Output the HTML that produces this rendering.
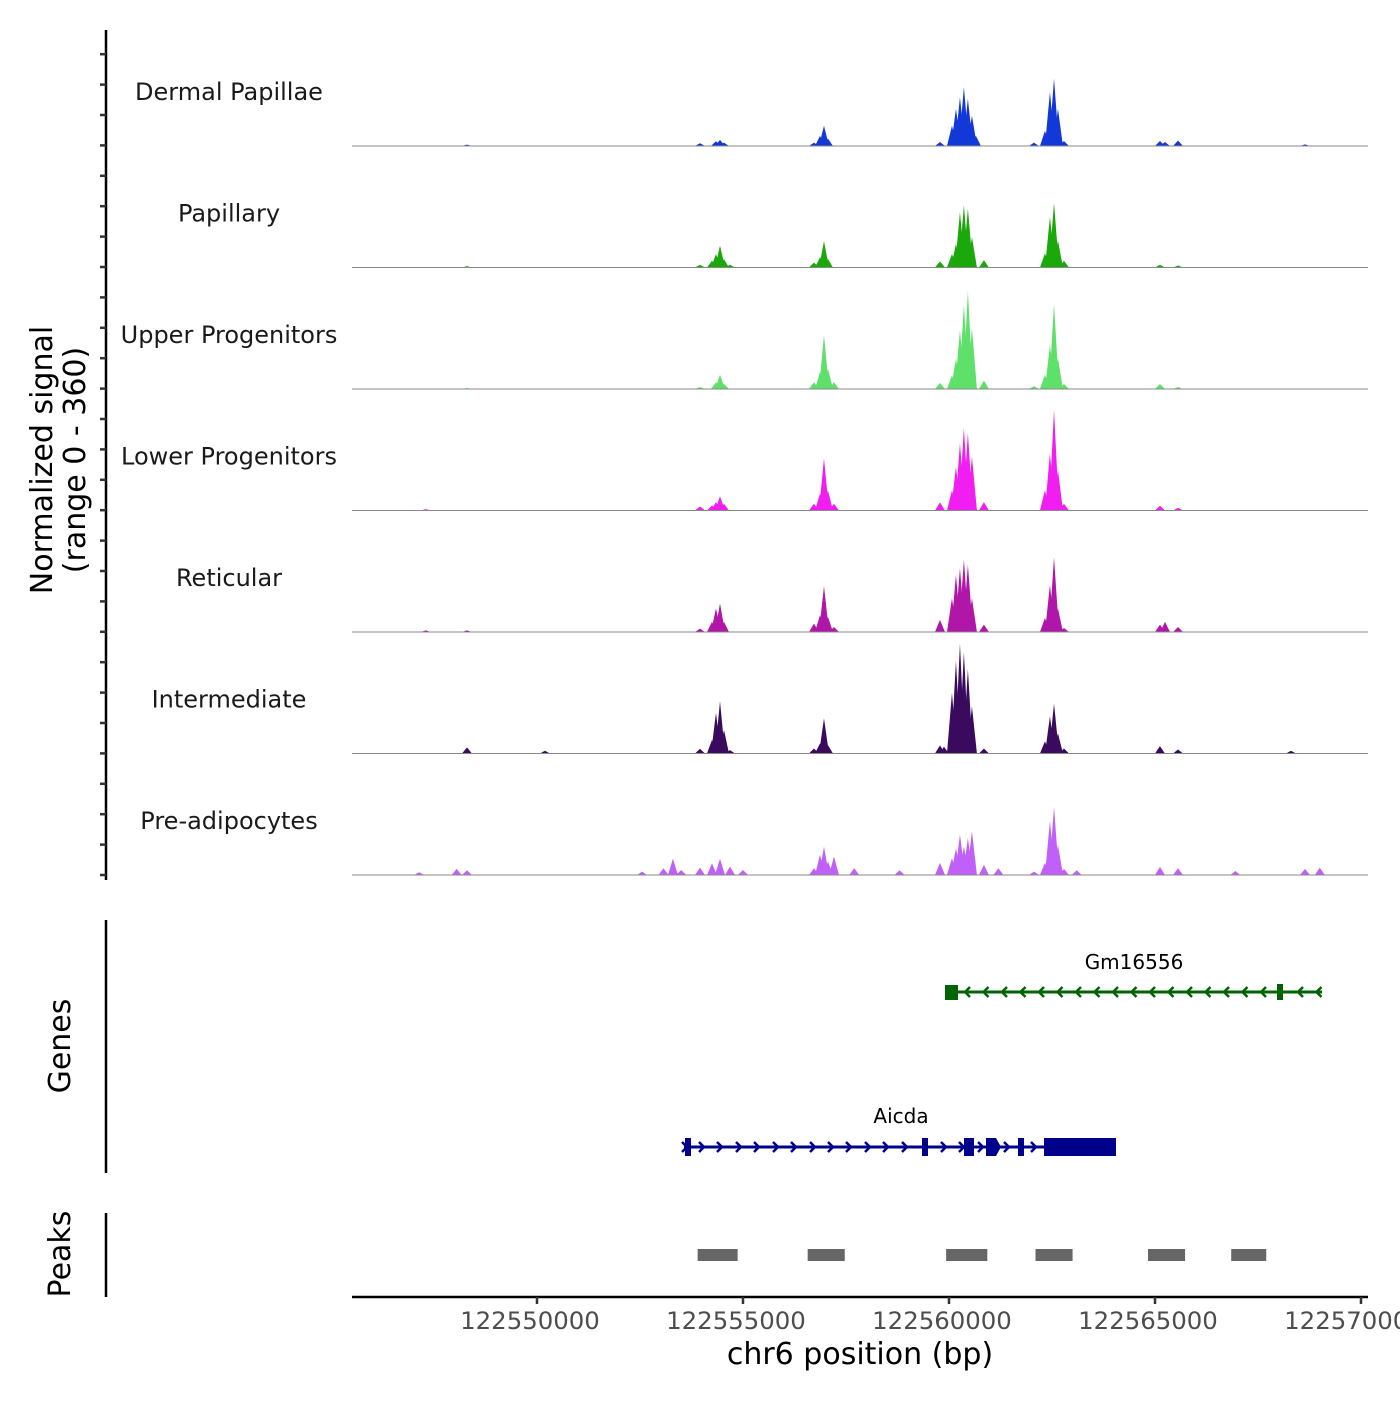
<!DOCTYPE html>
<html><head><meta charset="utf-8"><style>
body{margin:0;background:#fff}
svg{font-family:"DejaVu Sans","Liberation Sans",sans-serif}
</style></head><body>
<svg id="c" width="1400" height="1400" xmlns="http://www.w3.org/2000/svg"></svg>
<script>
const trackNames=["Dermal Papillae","Papillary","Upper Progenitors","Lower Progenitors","Reticular","Intermediate","Pre-adipocytes"];
const trackColors=["#1338d8","#1aa80a","#5ee06a","#f01ef0","#b016a8","#3a0a5e","#c060f8"];
const xTicks=[122550000,122555000,122560000,122565000,122570000];
const dermal=[[122548300,4],[122553956,8],[122554344,14],[122554442,18],[122554539,10],[122556723,10],[122556869,30],[122556966,60],[122557063,22],[122559781,12],[122560072,60],[122560169,110],[122560266,145],[122560362,175],[122560459,140],[122560557,90],[122560654,30],[122562062,10],[122562329,45],[122562450,160],[122562549,200],[122562645,110],[122562791,15],[122565121,15],[122565243,12],[122565559,16],[122568641,5]];
const papillary=[[122548300,4],[122553956,8],[122554247,20],[122554344,40],[122554442,65],[122554539,25],[122554685,8],[122556723,15],[122556869,30],[122556966,78],[122557063,25],[122559781,18],[122560072,40],[122560169,70],[122560266,165],[122560362,185],[122560459,175],[122560557,90],[122560848,22],[122562329,42],[122562450,150],[122562549,192],[122562645,80],[122562791,20],[122565121,8],[122565559,6]];
const upperProg=[[122548300,3],[122553956,6],[122554344,20],[122554442,42],[122554539,15],[122556723,20],[122556869,50],[122556966,160],[122557063,60],[122557208,20],[122559781,18],[122560072,40],[122560169,90],[122560266,175],[122560362,250],[122560459,290],[122560557,180],[122560848,25],[122562062,8],[122562329,42],[122562450,130],[122562549,252],[122562645,90],[122562791,15],[122565121,15],[122565559,6]];
const lowerProg=[[122547300,4],[122553956,12],[122554247,15],[122554344,25],[122554442,42],[122554539,20],[122556723,20],[122556869,50],[122556966,155],[122557063,60],[122557208,20],[122559781,24],[122560072,60],[122560169,130],[122560266,200],[122560362,245],[122560459,230],[122560557,160],[122560848,25],[122562329,60],[122562450,170],[122562549,298],[122562645,120],[122562791,20],[122565121,14],[122565559,8]];
const reticular=[[122547300,5],[122548300,5],[122553956,10],[122554247,30],[122554344,70],[122554442,85],[122554539,30],[122556723,25],[122556869,50],[122556966,136],[122557063,45],[122557208,15],[122559781,36],[122560072,100],[122560169,170],[122560266,190],[122560362,215],[122560459,200],[122560557,100],[122560848,22],[122562329,42],[122562450,140],[122562549,222],[122562645,70],[122562791,12],[122565121,22],[122565243,30],[122565559,15]];
const intermediate=[[122548301,18],[122550194,8],[122553956,14],[122554247,40],[122554344,120],[122554442,155],[122554539,70],[122554685,10],[122556723,15],[122556869,30],[122556966,104],[122557063,25],[122559781,24],[122559878,20],[122560072,180],[122560169,275],[122560266,326],[122560362,300],[122560459,250],[122560557,140],[122560848,15],[122562329,36],[122562450,110],[122562549,148],[122562645,60],[122562791,15],[122565121,22],[122565559,12],[122568300,8]];
const preAdipo=[[122547140,8],[122548050,18],[122548300,14],[122552550,10],[122553070,20],[122553300,48],[122553500,15],[122553956,22],[122554247,35],[122554442,48],[122554685,25],[122555000,15],[122556723,20],[122556869,60],[122556966,84],[122557063,40],[122557208,55],[122557700,20],[122558800,14],[122559781,36],[122560072,50],[122560169,80],[122560266,120],[122560362,85],[122560459,110],[122560557,130],[122560848,30],[122561200,20],[122562062,10],[122562329,36],[122562450,160],[122562549,202],[122562645,90],[122562791,18],[122563100,14],[122565121,24],[122565559,20],[122566950,12],[122568641,18],[122569000,22]];
const tracks=[dermal,papillary,upperProg,lowerProg,reticular,intermediate,preAdipo];
const peaks=[[122553900,122554870],[122556570,122557470],[122559930,122560930],[122562100,122563000],[122564830,122565730],[122566850,122567700]];

const NS="http://www.w3.org/2000/svg";
const svg=document.getElementById("c");
const X0=352,X1=1368,BP0=122545510,BP1=122570170;
const xs=bp=>X0+(bp-BP0)*(X1-X0)/(BP1-BP0);
const TH=121.5;
const ys=(v,base)=>base-v/360*TH;
function mk(tag,attrs,text){const e=document.createElementNS(NS,tag);for(const k in attrs)e.setAttribute(k,attrs[k]);if(text!==undefined)e.textContent=text;svg.appendChild(e);return e;}

let ax=mk("line",{x1:106,y1:30,x2:106,y2:880,stroke:"#000","stroke-width":2.5});


for(let y=875;y>=40;y-=30.4){const t=mk("line",{x1:100,y1:y,x2:106,y2:y,stroke:"#333","stroke-width":2.5});

}
let yt=mk("text",{transform:"translate(52,460) rotate(-90)","text-anchor":"middle","font-size":30,fill:"#000"});


yt.innerHTML='<tspan x="0" dy="0">Normalized signal</tspan><tspan x="0" dy="33">(range 0 - 360)</tspan>';

tracks.forEach((arr,i)=>{
  const base=146+i*121.5;
  const lab=mk("text",{x:229,y:base-46,"text-anchor":"middle","font-size":24,fill:"#1a1a1a"},trackNames[i]);
  
  
  arr.forEach(([bp,v])=>{
    const x=xs(bp),hw=5;
    const p=mk("polygon",{points:`${x-hw},${base} ${x},${ys(v,base)} ${x+hw},${base}`,fill:trackColors[i]});
    
    
  });
  const bl=mk("line",{x1:X0,y1:base,x2:X1,y2:base,stroke:"#888","stroke-width":1});
  
  
});

let gl=mk("line",{x1:106,y1:920,x2:106,y2:1173,stroke:"#000","stroke-width":2.5});


let gt=mk("text",{transform:"translate(70,1046) rotate(-90)","text-anchor":"middle","font-size":30},"Genes");


let peaksT=mk("text",{transform:"translate(70,1254) rotate(-90)","text-anchor":"middle","font-size":30},"Peaks");


let pl=mk("line",{x1:106,y1:1213,x2:106,y2:1297,stroke:"#000","stroke-width":2.5});



let g1=document.createElementNS(NS,"g");svg.appendChild(g1);


let s='<line x1="946" y1="992" x2="1322" y2="992" stroke="#006400" stroke-width="3"/>';
s+='<rect x="945" y="985" width="13" height="15" fill="#006400"/><rect x="1277" y="984" width="6" height="16" fill="#006400"/>';
for(let x=965;x<1325;x+=18.5){if(Math.abs(x-1280)<6)continue;s+=`<polyline points="${x+5},987 ${x},992 ${x+5},997" fill="none" stroke="#006400" stroke-width="2.5"/>`;}
s+='<text x="1134" y="969" text-anchor="middle" font-size="20">Gm16556</text>';
g1.innerHTML=s;

let g2=document.createElementNS(NS,"g");svg.appendChild(g2);


s='<line x1="684" y1="1147" x2="1116" y2="1147" stroke="#00008B" stroke-width="3"/>';
s+='<rect x="685" y="1138" width="6" height="18" fill="#00008B"/><rect x="922" y="1138" width="6" height="18" fill="#00008B"/>';
s+='<rect x="964" y="1138" width="10" height="18" fill="#00008B"/><path d="M986,1138 H996 L1001,1147 L996,1156 H986 Z" fill="#00008B"/>';
s+='<rect x="1018" y="1138" width="6" height="18" fill="#00008B"/><rect x="1044" y="1138" width="72" height="18" fill="#00008B"/>';
[682,699,717,736,754,773,791,810,828,846,865,883,902,941,959,978,1004,1031].forEach(x=>{s+=`<polyline points="${x},1142 ${x+5},1147 ${x},1152" fill="none" stroke="#00008B" stroke-width="2.5"/>`;});
s+='<text x="901" y="1123" text-anchor="middle" font-size="20">Aicda</text>';
g2.innerHTML=s;

peaks.forEach(([a,b])=>{const r=mk("rect",{x:xs(a),y:1249,width:xs(b)-xs(a),height:12,fill:"#666"});

});

let xl=mk("line",{x1:X0,y1:1297,x2:X1,y2:1297,stroke:"#000","stroke-width":2.5});


xTicks.forEach(t=>{const x=xs(t);
  const tk=mk("line",{x1:x,y1:1297,x2:x,y2:1304,stroke:"#333","stroke-width":2.5});
  
  
  const tl=mk("text",{x:x-7,y:1329,"text-anchor":"middle","font-size":24.4,fill:"#4d4d4d"},String(t));
  
  });
let xt=mk("text",{x:860,y:1364,"text-anchor":"middle","font-size":30},"chr6 position (bp)");


</script>
</body></html>
